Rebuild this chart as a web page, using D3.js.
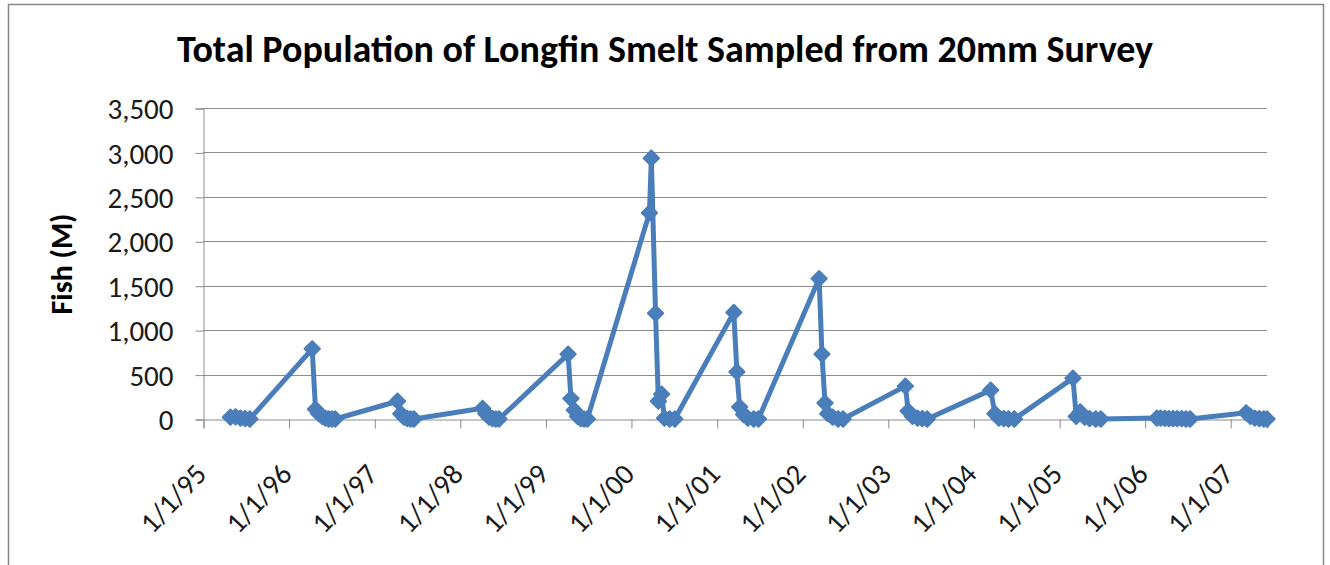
<!DOCTYPE html>
<html>
<head>
<meta charset="utf-8">
<script src="https://cdn.jsdelivr.net/npm/d3@7"></script>
<style>
  html, body { margin: 0; padding: 0; background: #fff; }
  svg { display: block; font-family: Carlito, Calibri, Lato, "Open Sans", sans-serif; }
</style>
</head>
<body>
<svg id="chart" width="1330" height="565"></svg>
<script>
// 20mm Survey sampling dates (one cluster per spring season)
const sampleDates = [
  "1995-04-28","1995-05-20","1995-06-10","1995-06-30","1995-07-20",
  "1996-04-11","1996-04-25","1996-05-09","1996-05-23","1996-06-06","1996-06-20","1996-07-04","1996-07-18",
  "1997-04-10","1997-04-24","1997-05-08","1997-05-22","1997-06-05","1997-06-19",
  "1998-04-08","1998-04-22","1998-05-06","1998-05-20","1998-06-03","1998-06-17",
  "1999-04-08","1999-04-20","1999-05-04","1999-05-18","1999-06-01","1999-06-15","1999-06-29",
  "2000-03-20","2000-03-28","2000-04-15","2000-04-27","2000-05-11","2000-05-23","2000-06-14","2000-07-06",
  "2001-03-15","2001-03-28","2001-04-09","2001-04-26","2001-05-14","2001-06-08","2001-06-28",
  "2002-03-14","2002-03-26","2002-04-08","2002-04-20","2002-05-11","2002-06-03","2002-06-24",
  "2003-03-17","2003-03-29","2003-04-16","2003-05-08","2003-05-28","2003-06-18",
  "2004-03-15","2004-04-02","2004-04-19","2004-05-10","2004-05-30","2004-06-24",
  "2005-03-01","2005-03-15","2005-04-01","2005-04-20","2005-05-11","2005-06-06","2005-06-28",
  "2006-02-22","2006-03-10","2006-03-28","2006-04-14","2006-05-02","2006-05-20","2006-06-08","2006-06-26","2006-07-14",
  "2007-03-10","2007-03-28","2007-04-16","2007-05-05","2007-05-24","2007-06-07"
];

// Total longfin smelt population per survey, millions of fish
const fishMillions = [
  20, 25, 10, 5, 0,
  790, 110, 60, 30, 10, 0, 0, 0,
  200, 60, 20, 5, 0, 0,
  120, 60, 20, 5, 0, 0,
  730, 230, 100, 30, 5, 0, 0,
  2320, 2935, 1190, 200, 280, 10, 0, 0,
  1200, 530, 135, 50, 10, 0, 0,
  1580, 730, 180, 60, 20, 0, 0,
  370, 90, 30, 10, 5, 0,
  325, 60, 10, 5, 0, 0,
  460, 30, 80, 20, 5, 0, 0,
  10, 10, 8, 5, 5, 5, 3, 0, 0,
  70, 30, 10, 5, 0, 0
];

const yTicks = [0, 500, 1000, 1500, 2000, 2500, 3000, 3500];
const xTickYears = [1995, 1996, 1997, 1998, 1999, 2000, 2001, 2002, 2003, 2004, 2005, 2006, 2007];

const titleText = "Total Population of Longfin Smelt Sampled from 20mm Survey";
const yTitle = "Fish (M)";

const FONT = 'Carlito, Calibri, Lato, "Open Sans", sans-serif';
const parse = d3.timeParse("%Y-%m-%d");
const data = sampleDates.map((d, i) => ({ date: parse(d), value: fishMillions[i] }));

const svg = d3.select("#chart");
const plot = { left: 203, right: 1267, top: 108, bottom: 419 };

// outer chart frame
svg.append("rect")
  .attr("x", 8.5).attr("y", 4.5)
  .attr("width", 1315).attr("height", 600)
  .attr("fill", "#fff").attr("stroke", "#878787").attr("stroke-width", 1.5);

const x = d3.scaleTime()
  .domain([new Date(1995, 0, 1), data[data.length - 1].date])
  .range([plot.left, plot.right]);

const y = d3.scaleLinear()
  .domain([0, 3500])
  .range([plot.bottom, plot.top]);

// horizontal gridlines
svg.append("g")
  .selectAll("line")
  .data(yTicks.filter(v => v > 0))
  .join("line")
  .attr("x1", plot.left).attr("x2", plot.right)
  .attr("y1", d => Math.round(y(d)) + 0.5).attr("y2", d => Math.round(y(d)) + 0.5)
  .attr("stroke", "#8c8c8c").attr("stroke-width", 1);

// y axis
const yAxis = d3.axisLeft(y)
  .tickValues(yTicks)
  .tickSize(8)
  .tickPadding(22)
  .tickFormat(d3.format(","));
const gy = svg.append("g")
  .attr("transform", `translate(${plot.left + 0.5},0.5)`)
  .call(yAxis)
  .attr("font-family", FONT);
gy.selectAll("text").attr("font-size", 29).attr("fill", "#1a1a1a").attr("dy", "0.35em");

// x axis
const xTickDates = xTickYears.map(yr => new Date(yr, 0, 1));
const xAxis = d3.axisBottom(x)
  .tickValues(xTickDates)
  .tickSize(9)
  .tickFormat(d3.timeFormat("%-m/%-d/%y"));
const gx = svg.append("g")
  .attr("transform", `translate(0.5,${plot.bottom + 0.5})`)
  .call(xAxis)
  .attr("font-family", FONT);
gx.selectAll("text")
  .attr("font-size", 29)
  .attr("fill", "#1a1a1a")
  .attr("text-anchor", "end")
  .attr("dy", 0)
  .attr("y", 0)
  .attr("transform", "translate(4,56) rotate(-47)");

svg.selectAll(".domain").attr("stroke", "#8c8c8c");
svg.selectAll(".tick line").attr("stroke", "#8c8c8c");

// data line
const line = d3.line().x(d => x(d.date)).y(d => y(d.value));
svg.append("path")
  .datum(data)
  .attr("d", line)
  .attr("fill", "none")
  .attr("stroke", "#4a7ebb")
  .attr("stroke-width", 5)
  .attr("stroke-linejoin", "round");

// diamond markers
const diamond = d3.symbol().type(d3.symbolDiamond2).size(150);
svg.append("g")
  .selectAll("path")
  .data(data)
  .join("path")
  .attr("transform", d => `translate(${x(d.date)},${y(d.value)})`)
  .attr("d", diamond)
  .attr("fill", "#4a7ebb")
  .attr("stroke", "#4a7ebb")
  .attr("stroke-width", 2)
  .attr("stroke-linejoin", "round");

// title
svg.append("text")
  .attr("x", 665).attr("y", 62)
  .attr("text-anchor", "middle")
  .attr("font-size", 38).attr("font-weight", "bold")
  .attr("fill", "#000")
  .text(titleText);

// y axis title
svg.append("text")
  .attr("transform", "translate(72,264) rotate(-90)")
  .attr("text-anchor", "middle")
  .attr("font-size", 30).attr("font-weight", "bold")
  .attr("fill", "#000")
  .text(yTitle);
</script>
</body>
</html>
